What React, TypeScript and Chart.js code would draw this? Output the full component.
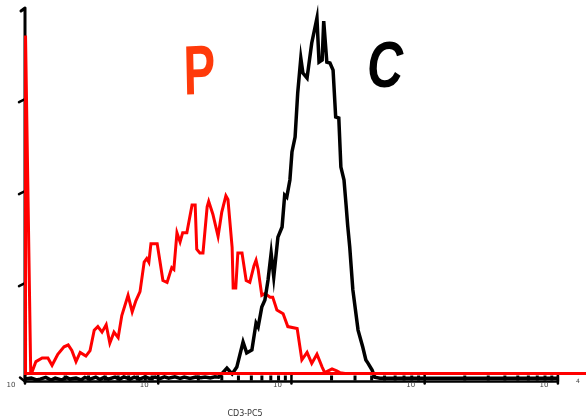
import React, { useEffect, useRef } from "react";
import { Chart, registerables } from "chart.js";

Chart.register(...registerables);

// x values are log channels (256 per decade, 10^0 .. 10^4), y values are counts
const decadeChannels = [0, 256, 512, 768, 1024];
const decadeLabels = ["10", "10", "10", "10", "10"];
const lastExponent = "4";
const minorFactors = [2, 3, 4, 5, 6, 7, 8, 9];
const yTickValues = [50, 100, 150];
const axisTitle = "CD3-PC5";
const peakLabels = ["P", "C"];
const redBaseline = 1.5;

const redCurve: [number, number][] = [
  [0, 1.5], [1, 185], [11, 2], [13, 2], [21, 8], [33, 10], [44, 10], [52, 6], [63, 12],
  [75, 16], [83, 17], [90, 14], [98, 8], [106, 13], [117, 11], [125, 14], [133, 25],
  [140, 27], [148, 24], [156, 28], [163, 18], [171, 24], [179, 21], [186, 33], [198, 44],
  [206, 35], [213, 41], [221, 46], [229, 62], [234, 64], [238, 62], [242, 72], [254, 72],
  [259, 63], [265, 52], [273, 51], [282, 59], [286, 58], [292, 78], [298, 73], [303, 78],
  [311, 78], [321, 93], [327, 93], [330, 69], [336, 67], [342, 67], [350, 92], [353, 95],
  [361, 88], [371, 76], [378, 89], [386, 98], [390, 96], [398, 70], [400, 48], [405, 48],
  [409, 67], [417, 67], [425, 52], [432, 51], [440, 60], [444, 63], [448, 58], [455, 44],
  [461, 45], [471, 43], [476, 43], [484, 36], [496, 34], [505, 27], [523, 26], [532, 9],
  [542, 13], [551, 7], [561, 12], [571, 5], [576, 2], [590, 4], [599, 3], [605, 2],
  [615, 1.5], [1078, 1.5],
];

const blackCurve: [number, number][] = [
  [0, -1.5], [12, -1], [22, -2], [29, -1.5], [40, -0.6], [50, -2], [58, -1], [70, -2],
  [80, -0.6], [86, -1.5], [98, -1], [108, -2], [115, -0.6], [125, -1.5], [136, -0.4], [144, -1.7],
  [152, -0.6], [160, -1.5], [173, -0.4], [182, -1.5], [190, -0.3], [202, -1.5], [210, -0.4], [220, -1.5],
  [231, -0.3], [240, -1.3], [250, -0.4], [259, -1.3], [268, -0.3], [276, -1], [288, -0.3],
  [298, -1.1], [306, -0.4], [317, -1.1], [328, -0.4], [338, -0.8], [346, -0.4], [356, -0.9],
  [365, -0.3], [372, -0.5],
  [378, 1.3], [388, 4.5], [398, 1.3], [407, 5], [419, 18.6], [426, 12.7], [436, 14.3],
  [444, 28.9], [448, 26.8], [455, 37.6], [461, 41.4], [467, 52.3], [473, 66.9], [478, 53.9],
  [486, 75.6], [494, 81.1], [499, 98.4], [503, 97.3], [509, 106.6], [513, 121.8],
  [519, 129.9], [524, 153.8], [530, 172.8], [534, 164.7], [542, 162], [551, 181],
  [561, 194.5], [565, 170.6], [571, 171.7], [574, 192.9], [580, 170.6], [586, 170.1],
  [592, 166.3], [597, 140.8], [603, 140.2], [607, 113.6], [613, 106.6], [617, 93],
  [620, 82.1], [624, 70.2], [630, 46.9], [640, 25.1], [649, 15.9], [655, 8.9], [659, 7.2],
  [667, 3.4], [672, -0.5], [682, -1], [1024, -1],
];

const X_MAX = 1078;
const Y_MIN = -2;
const Y_MAX = 200;

const axisPlugin = {
  id: "flowAxes",
  beforeDatasetsDraw(chart: any) {
    const { ctx, scales } = chart;
    const xs = scales.x;
    const ys = scales.y;
    const left = xs.getPixelForValue(0);
    const top = ys.getPixelForValue(Y_MAX);
    const bottom = 381.5;
    const right = xs.getPixelForValue(decadeChannels[decadeChannels.length - 1]);
    ctx.save();
    ctx.strokeStyle = "#000";
    ctx.lineCap = "round";
    ctx.lineJoin = "round";
    // left axis
    ctx.lineWidth = 3;
    ctx.beginPath();
    ctx.moveTo(21, top + 3);
    ctx.lineTo(left, top);
    ctx.lineTo(left, bottom);
    ctx.stroke();
    // y ticks
    ctx.lineWidth = 2.5;
    yTickValues.forEach((v) => {
      const y = ys.getPixelForValue(v);
      ctx.beginPath();
      ctx.moveTo(19, y + 2);
      ctx.lineTo(left, y - 1);
      ctx.stroke();
    });
    // bottom hook and frame
    ctx.lineWidth = 2.5;
    ctx.beginPath();
    ctx.moveTo(20, bottom - 4);
    ctx.lineTo(left, bottom);
    ctx.lineTo(right, bottom);
    ctx.lineTo(right, bottom - 5);
    ctx.stroke();
    // major ticks
    ctx.lineWidth = 2.5;
    decadeChannels.forEach((c) => {
      const x = xs.getPixelForValue(c);
      ctx.beginPath();
      ctx.moveTo(x, bottom - 6);
      ctx.lineTo(x, bottom + 2);
      ctx.stroke();
    });
    // minor ticks
    ctx.fillStyle = "#000";
    for (let d = 0; d < 4; d++) {
      minorFactors.forEach((f) => {
        const x = xs.getPixelForValue(256 * (d + Math.log10(f)));
        ctx.fillRect(x - 1.5, bottom - 6, 3, 5);
      });
    }
    ctx.restore();
  },
  afterDatasetsDraw(chart: any) {
    const { ctx, scales } = chart;
    const xs = scales.x;
    const ys = scales.y;
    ctx.save();
    // red baseline across the full width
    ctx.strokeStyle = "#ff0000";
    ctx.lineWidth = 3;
    const yb = ys.getPixelForValue(redBaseline);
    ctx.beginPath();
    ctx.moveTo(xs.getPixelForValue(0) - 1, yb);
    ctx.lineTo(chart.width, yb);
    ctx.stroke();
    // tick labels
    ctx.fillStyle = "#444";
    ctx.font = "7px 'DejaVu Sans'";
    ctx.textAlign = "center";
    ctx.textBaseline = "middle";
    decadeChannels.forEach((c, i) => {
      const x = xs.getPixelForValue(c) - 14;
      ctx.fillText(decadeLabels[i], x, 385);
    });
    ctx.font = "6px 'DejaVu Sans'";
    ctx.fillText(lastExponent, xs.getPixelForValue(decadeChannels[4]) + 20, 381);
    // axis title
    ctx.fillStyle = "#333";
    ctx.font = "8px 'DejaVu Sans'";
    ctx.fillText(axisTitle, 245, 414);
    // P label
    ctx.textBaseline = "alphabetic";
    ctx.save();
    ctx.translate(xs.getPixelForValue(336), 94);
    ctx.scale(0.68, 1);
    ctx.rotate(-0.03);
    ctx.fillStyle = "#ff3a0a";
    ctx.font = "bold 70px 'Liberation Sans'";
    ctx.fillText(peakLabels[0], 0, 0);
    ctx.restore();
    // C label
    ctx.save();
    ctx.translate(xs.getPixelForValue(692), 87);
    ctx.scale(0.78, 1);
    ctx.fillStyle = "#000";
    ctx.font = "italic bold 64px 'Liberation Sans'";
    ctx.fillText(peakLabels[1], 0, 0);
    ctx.restore();
    ctx.restore();
  },
};

export default function App() {
  const canvasRef = useRef<HTMLCanvasElement | null>(null);

  useEffect(() => {
    document.body.style.margin = "0";
    const canvas = canvasRef.current;
    if (!canvas) return;
    const chart = new Chart(canvas, {
      type: "line",
      data: {
        datasets: [
          {
            label: "C",
            data: blackCurve.map(([x, y]) => ({ x, y })),
            borderColor: "#000",
            borderWidth: 3.5,
            pointRadius: 0,
            tension: 0,
            fill: false,
            clip: 6,
          },
          {
            label: "P",
            data: redCurve.map(([x, y]) => ({ x, y })),
            borderColor: "#ff0000",
            borderWidth: 3,
            pointRadius: 0,
            tension: 0,
            fill: false,
            clip: 6,
          },
        ],
      },
      options: {
        responsive: false,
        animation: false,
        devicePixelRatio: 1,
        layout: { padding: { left: 25, right: 0, top: 8, bottom: 38 } },
        plugins: { legend: { display: false }, tooltip: { enabled: false } },
        scales: {
          x: { type: "linear", min: 0, max: X_MAX, display: false },
          y: { type: "linear", min: Y_MIN, max: Y_MAX, display: false },
        },
      },
      plugins: [axisPlugin],
    });
    return () => chart.destroy();
  }, []);

  return (
    <div style={{ position: "absolute", left: 0, top: 0, width: 586, height: 418, background: "#fff" }}>
      <canvas ref={canvasRef} width={586} height={418} style={{ display: "block" }} />
    </div>
  );
}
